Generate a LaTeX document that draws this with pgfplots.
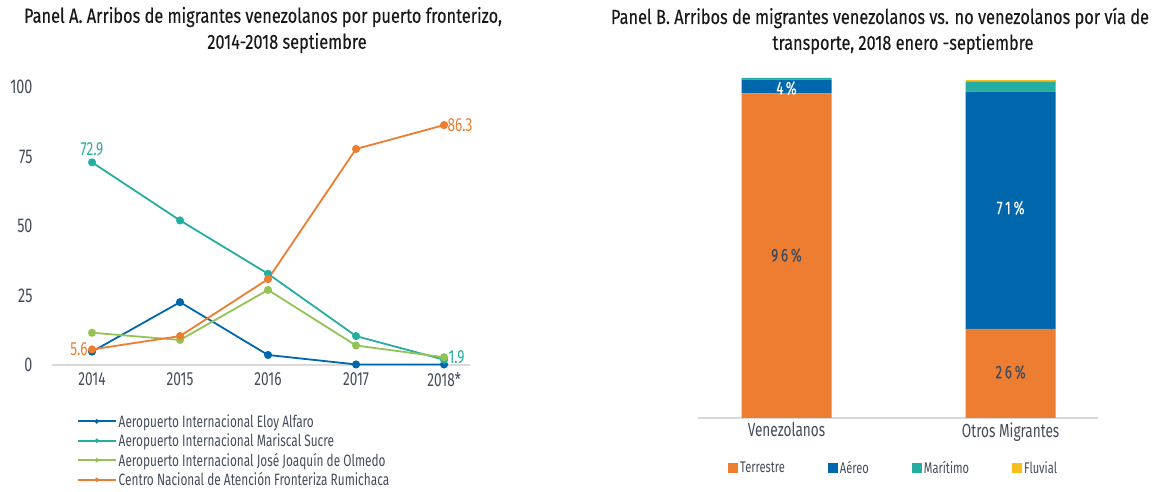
\documentclass[border=0pt]{standalone}
\usepackage{pgfplots}
\pgfplotsset{compat=1.18}
\usepackage{fontspec}
\setmainfont{Fira Sans}[FakeStretch=0.72]
\newfontfamily\titlefont{Fira Sans}[FakeStretch=0.80, FakeBold=0.2]
\newfontfamily\pctfont{Fira Sans}[FakeStretch=0.72, LetterSpace=15, FakeBold=0.3]
\definecolor{cOrange}{HTML}{ED7D31}
\definecolor{cBlue}{HTML}{0067AC}
\definecolor{cTeal}{HTML}{26ADA1}
\definecolor{cGreen}{HTML}{93C355}
\definecolor{cYellow}{HTML}{F6BE1A}
\definecolor{txt}{HTML}{444C5C}
\definecolor{axln}{HTML}{D9D9D9}
\begin{document}
\begin{tikzpicture}[x=1bp,y=1bp]
\path[use as bounding box] (0,0) rectangle (1165,492);
% titles
\node[font=\titlefont\fontsize{20.5}{22}\selectfont, text=black!90] at (263,475) {Panel A. Arribos de migrantes venezolanos por puerto fronterizo,};
\node[font=\titlefont\fontsize{20.5}{22}\selectfont, text=black!90] at (287,449) {2014-2018 septiembre};
\node[font=\titlefont\fontsize{20.5}{22}\selectfont, text=black!90] at (880,474) {Panel B. Arribos de migrantes venezolanos vs. no venezolanos por vía de};
\node[font=\titlefont\fontsize{20.5}{22}\selectfont, text=black!90] at (903,448) {transporte, 2018 enero -septiembre};

\begin{axis}[
  at={(52bp,127bp)}, anchor=south west, scale only axis,
  width=418bp, height=278bp,
  xmin=-0.455, xmax=4.295, ymin=0, ymax=100,
  axis lines*=left,
  y axis line style={draw=none},
  x axis line style={draw=axln, line width=1.5bp},
  tick style={draw=none},
  xtick={0,1,2,3,4},
  xticklabels={2014,2015,2016,2017,2018*},
  ytick={0,25,50,75,100},
  /pgf/number format/assume math mode=true,
  ticklabel style={font=\fontsize{19}{21}\selectfont, text=txt},
  yticklabel style={font=\fontsize{20}{22}\selectfont, xshift=-16bp},
  xticklabel style={yshift=-4bp},
  clip=false,
  every axis plot/.append style={line width=1.8bp, mark=*, mark size=3.1bp},
  legend style={at={(0.052,-0.162)}, anchor=north west, draw=none, fill=none,
    font=\fontsize{16.5}{18}\selectfont, text=txt, row sep=1bp,
    nodes={inner sep=2bp}},
  legend cell align=left,
  legend image code/.code={\draw[#1, mark size=1.2bp, line width=1.8bp, mark repeat=2, mark phase=2] plot coordinates {(0bp,0bp) (19bp,0bp) (38bp,0bp)};},
]
\addplot[cBlue, mark options={fill=cBlue}] coordinates {(0,4.8) (1,22.6) (2,3.6) (3,0.2) (4,0.2)};
\addlegendentry{Aeropuerto Internacional Eloy Alfaro}
\addplot[cTeal, mark options={fill=cTeal}] coordinates {(0,72.9) (1,52.0) (2,32.8) (3,10.4) (4,1.9)};
\addlegendentry{Aeropuerto Internacional Mariscal Sucre}
\addplot[cGreen, mark options={fill=cGreen}] coordinates {(0,11.6) (1,9.0) (2,27.0) (3,7.0) (4,2.8)};
\addlegendentry{Aeropuerto Internacional José Joaquín de Olmedo}
\addplot[cOrange, mark options={fill=cOrange}] coordinates {(0,5.6) (1,10.4) (2,30.9) (3,77.7) (4,86.3)};
\addlegendentry{Centro Nacional de Atención Fronteriza Rumichaca}
\node[text=cTeal, font=\fontsize{19}{21}\selectfont, above=3bp] at (axis cs:0,72.9) {72.9};
\node[text=cOrange, font=\fontsize{19}{21}\selectfont, right=0bp] at (axis cs:4,86.3) {86.3};
\node[text=cOrange, font=\fontsize{19}{21}\selectfont, left=1bp] at (axis cs:0,5.6) {5.6};
\node[text=cTeal, font=\fontsize{19}{21}\selectfont, right=1bp, yshift=2bp] at (axis cs:4,1.9) {1.9};
\end{axis}

\begin{axis}[
  at={(698bp,74bp)}, anchor=south west, scale only axis,
  width=400bp, height=340bp,
  xmin=-0.395, xmax=1.39, ymin=0, ymax=100,
  ybar stacked, bar width=90bp,
  axis lines*=left,
  y axis line style={draw=none},
  x axis line style={draw=axln, line width=1.5bp},
  tick style={draw=none},
  xtick={0,1}, xticklabels={Venezolanos, Otros Migrantes},
  ytick=\empty,
  xticklabel style={font=\fontsize{19}{21}\selectfont, text=txt, yshift=-1bp},
  clip=false,
  legend style={at={(0.489,-0.147)}, anchor=center, draw=none, fill=none,
    font=\fontsize{15.5}{17}\selectfont, text=txt, legend columns=4,
    /tikz/every even column/.append style={column sep=41bp},
    nodes={inner sep=2bp}},
  legend image code/.code={\fill[#1] (0bp,-5bp) rectangle (10bp,5bp);},
]
\addplot[fill=cOrange, draw=none] coordinates {(0,95.5) (1,26.2)};
\addlegendentry{Terrestre}
\addplot[fill=cBlue, draw=none] coordinates {(0,4.0) (1,69.8)};
\addlegendentry{Aéreo}
\addplot[fill=cTeal, draw=none] coordinates {(0,0.5) (1,2.9)};
\addlegendentry{Marítimo}
\addplot[fill=cYellow, draw=none] coordinates {(0,0) (1,0.6)};
\addlegendentry{Fluvial}
\coordinate (p96) at (axis cs:0,47.9);
\coordinate (p4) at (axis cs:0,97.0);
\coordinate (p71) at (axis cs:1,61.8);
\coordinate (p26) at (axis cs:1,13.5);
\end{axis}
\node[text=txt, font=\pctfont\fontsize{18.5}{20}\selectfont] at (p96) {96\%};
\node[text=white, font=\pctfont\fontsize{18.5}{20}\selectfont] at (p4) {4\%};
\node[text=white, font=\pctfont\fontsize{18.5}{20}\selectfont] at (p71) {71\%};
\node[text=txt, font=\pctfont\fontsize{18.5}{20}\selectfont] at (p26) {26\%};
\end{tikzpicture}
\end{document}
